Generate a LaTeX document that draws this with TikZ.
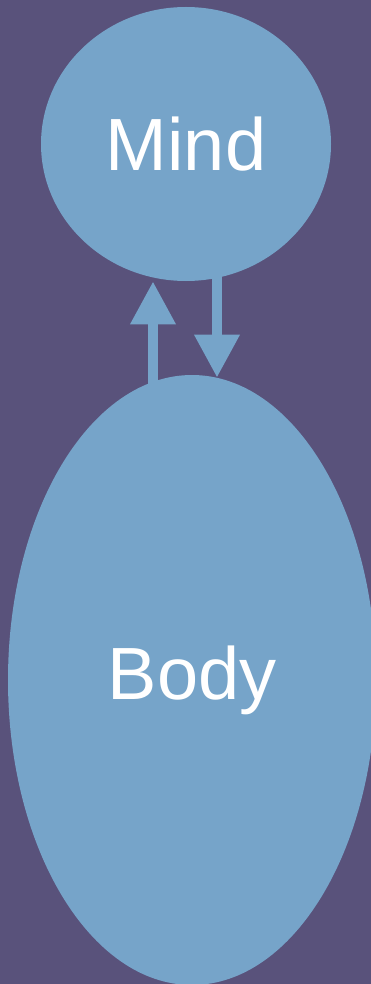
\documentclass[tikz,border=0pt]{standalone}
\usepackage{fontspec}
\setmainfont{Liberation Sans}
\usetikzlibrary{arrows.meta,shapes.geometric,calc}
\definecolor{bgpurple}{RGB}{89,82,123}
\definecolor{blobblue}{RGB}{118,164,201}
\tikzset{every picture/.style={line width=0.75pt}}

\begin{document}
\begin{tikzpicture}[x=1pt, y=-1pt,
    blob/.style={ellipse, fill=blobblue, inner sep=0pt, text=white,
        font=\fontsize{74}{80}\selectfont},
    flow/.style={draw=blobblue, line width=10pt,
        -{Triangle[width=43pt, length=43pt]}}]
    % 背景
    \fill[bgpurple] (0, 0) rectangle (371, 984);
    \useasboundingbox (0, 0) rectangle (371, 984);
    \begin{scope}
    \clip (0, 0) rectangle (371, 984);

    % 椭圆
    \node[blob, minimum width=290pt, minimum height=274pt] (mind) at (186, 144) {Mind};
    \node[blob, minimum width=368pt, minimum height=610pt] (body) at (192, 680) {Body};

    % 箭头
    \draw[flow] ($(body.north)+(-39, 12)$) -- ($(mind.south)+(-33, 0)$);
    \draw[flow] ($(mind.south)+(31, -6)$) -- ($(body.north)+(25, 3)$);
    \end{scope}
\end{tikzpicture}
\end{document}
